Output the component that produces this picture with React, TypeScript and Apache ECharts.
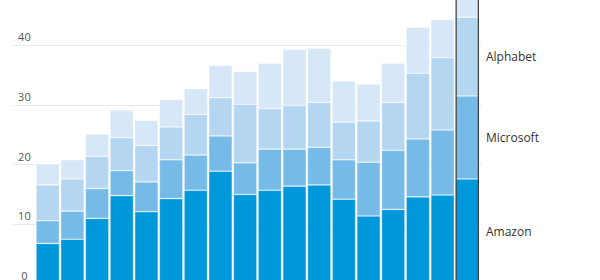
import React, { useEffect, useRef } from "react";
import * as echarts from "echarts";

const categories = [
  "Q1 18", "Q2 18", "Q3 18", "Q4 18", "Q1 19", "Q2 19", "Q3 19", "Q4 19", "Q1 20",
  "Q2 20", "Q3 20", "Q4 20", "Q1 21", "Q2 21", "Q3 21", "Q4 21", "Q1 22", "Q2 22",
];
const amazon = [6.8, 7.5, 11.0, 14.8, 12.1, 14.3, 15.7, 18.9, 15.0, 15.7, 16.4, 16.6, 14.2, 11.4, 12.5, 14.6, 14.9, 17.6];
const microsoft = [3.8, 4.7, 5.0, 4.2, 5.0, 6.5, 5.9, 5.9, 5.3, 6.9, 6.2, 6.3, 6.6, 9.0, 9.9, 9.7, 10.9, 13.9];
const alphabet = [6.0, 5.4, 5.4, 5.5, 6.1, 5.5, 6.8, 6.4, 9.8, 6.8, 7.3, 7.5, 6.3, 6.9, 8.0, 11.0, 12.1, 13.2];
const other = [3.5, 3.2, 3.7, 4.6, 4.2, 4.6, 4.3, 5.4, 5.5, 7.6, 9.4, 9.1, 6.9, 6.2, 6.6, 7.7, 6.4, 5.3];
const yTicks = [0, 10, 20, 30, 40, 50];
const highlightIndex = 17;
const highlightValue = 50;

const FONT = "'Open Sans', 'Noto Sans', sans-serif";

export default function App() {
  const ref = useRef<HTMLDivElement>(null);
  useEffect(() => {
    document.body.style.margin = "0";
    if (!ref.current) return;
    const chart = echarts.init(ref.current, undefined, { renderer: "svg" });
    const last = categories.length - 1;
    const mk = (name: string, data: number[], color: string, showLabel: boolean) => ({
      name,
      type: "bar",
      stack: "total",
      xAxisIndex: 1,
      yAxisIndex: 1,
      barCategoryGap: "5%",
      barGap: "-100%",
      itemStyle: { color, borderColor: "rgba(255,255,255,0.55)", borderWidth: 0.6 },
      data: data.map((v, i) =>
        i === last && showLabel
          ? {
              value: v,
              label: {
                show: true,
                position: "right",
                distance: 7,
                formatter: name,
                color: "#333",
                fontSize: 12,
                fontFamily: FONT,
              },
            }
          : v
      ),
    });
    chart.setOption({
      animation: false,
      grid: [
        { left: 13, right: 118, top: -14.5, bottom: -4, outerBoundsMode: "none", containLabel: false },
        { left: 35.4, right: 120.4, top: -14.5, bottom: -4, outerBoundsMode: "none", containLabel: false },
      ],
      xAxis: [
        { type: "value", gridIndex: 0, show: false, min: 0, max: 1 },
        { type: "category", gridIndex: 1, show: false, data: categories },
      ],
      yAxis: [
        {
          type: "value",
          gridIndex: 0,
          min: yTicks[0],
          max: yTicks[yTicks.length - 1],
          interval: 10,
          axisLine: { show: false },
          axisTick: { show: false },
          axisLabel: { show: false },
          splitLine: { lineStyle: { color: "#ebebeb", width: 1 } },
        },
        {
          type: "value",
          gridIndex: 1,
          min: yTicks[0],
          max: yTicks[yTicks.length - 1],
          interval: 10,
          axisLine: { show: false },
          axisTick: { show: false },
          splitLine: { show: false },
          axisLabel: {
            show: true,
            showMaxLabel: false,
            align: "center",
            verticalAlign: "bottom",
            padding: [0, 0, 3, 0],
            margin: 11,
            color: "#555",
            fontSize: 11,
            fontFamily: FONT,
          },
        },
      ],
      series: [
        mk("Amazon", amazon, "#0098da", true),
        mk("Microsoft", microsoft, "#76bbe7", true),
        mk("Alphabet", alphabet, "#b5d6f1", true),
        mk("Other", other, "#d6e8f7", false),
        {
          name: "highlight",
          type: "bar",
          xAxisIndex: 1,
          yAxisIndex: 1,
          barCategoryGap: "5%",
          barGap: "-100%",
          z: 5,
          silent: true,
          itemStyle: { color: "rgba(0,0,0,0)", borderColor: "#3a3a3a", borderWidth: 1.2 },
          data: categories.map((_, i) => (i === highlightIndex ? highlightValue : "-")),
        },
      ],
    });
    return () => chart.dispose();
  }, []);
  return <div ref={ref} style={{ width: 600, height: 280 }} />;
}
